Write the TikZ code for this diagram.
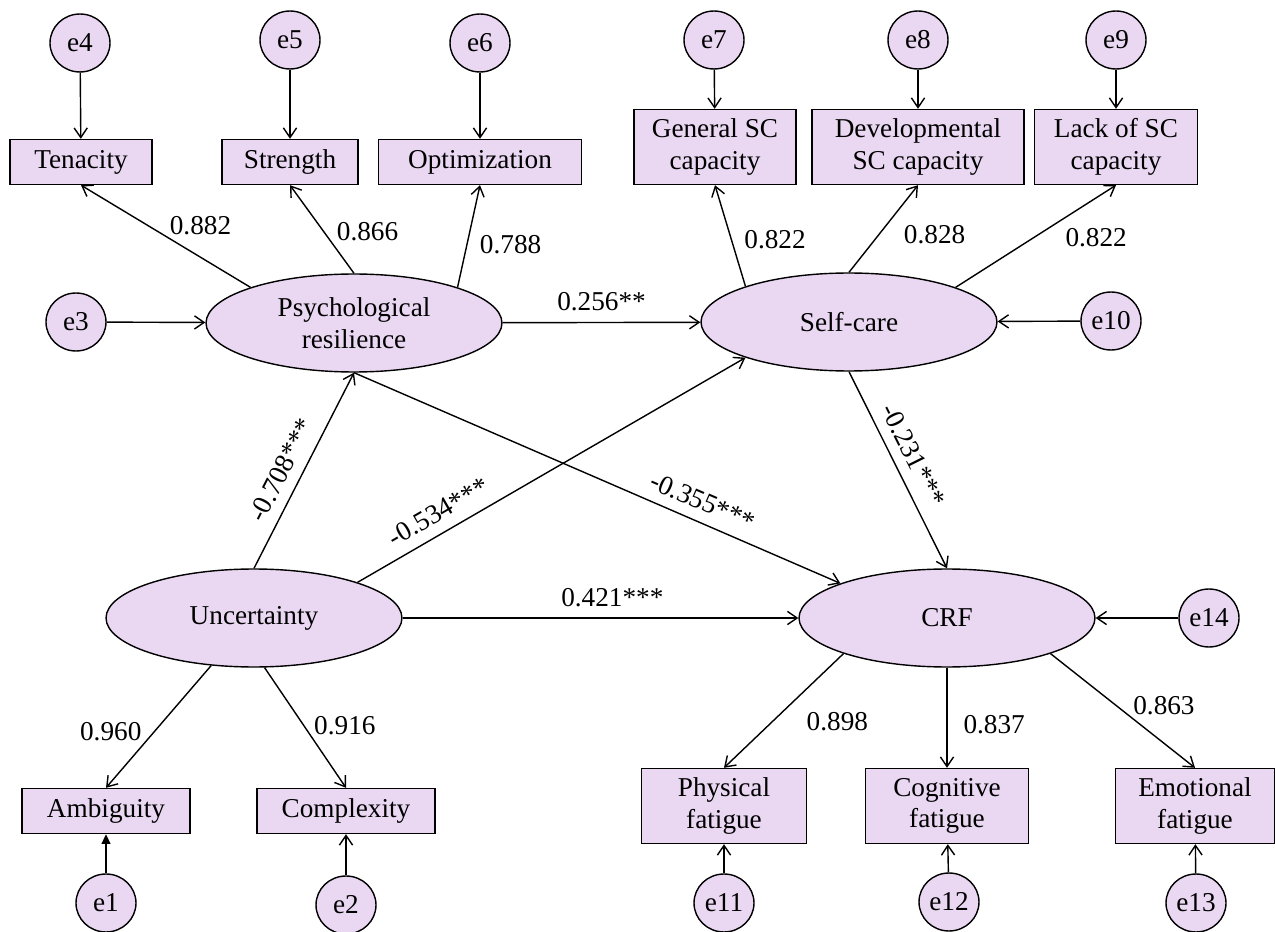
\documentclass[tikz,border=0pt]{standalone}
\usepackage{fontspec}
\setmainfont{Liberation Serif}
\usepackage{xcolor}
\usepackage{tikz}
\usetikzlibrary{arrows.meta, positioning, shapes.geometric}
\definecolor{semfill}{RGB}{234,216,243}

\begin{document}
\begin{tikzpicture}[x=0.02cm, y=-0.02cm,
          every node/.style={font=\fontsize{15.5}{18}\selectfont},
          latent/.style={ellipse, draw, fill=semfill, line width=0.8pt, minimum width=5.92cm, minimum height=1.96cm, inner sep=0pt, align=center},
          err/.style={ellipse, draw, fill=semfill, line width=0.8pt, minimum width=1.2cm, minimum height=1.16cm, inner sep=0pt},
          obs/.style={rectangle, draw, fill=semfill, line width=0.8pt, minimum height=0.9cm, inner sep=0pt, align=center},
          obstwo/.style={obs, minimum height=1.5cm},
          link/.style={line width=0.8pt, -{Straight Barb[length=5.5pt,width=7.5pt]}},
          coef/.style={inner sep=1pt}]
          \useasboundingbox (0,0) rectangle (1275,932);

          % latent variables
          \node[latent] (psy) at (354,323) {Psychological\\resilience};
          \node[latent] (self) at (849,322) {Self-care};
          \node[latent] (unc) at (254,618) {Uncertainty};
          \node[latent] (crf) at (947,618) {CRF};

          % indicators
          \node[obs, minimum width=2.84cm] (ten) at (81,162) {Tenacity};
          \node[obs, minimum width=2.72cm] (str) at (290,162) {Strength};
          \node[obs, minimum width=4.06cm] (opt) at (480,162) {Optimization};
          \node[obstwo, minimum width=3.24cm] (gsc) at (715,147) {General SC\\capacity};
          \node[obstwo, minimum width=4.24cm] (dev) at (918,147) {Developmental\\SC capacity};
          \node[obstwo, minimum width=3.26cm] (lack) at (1116,147) {Lack of SC\\capacity};
          \node[obs, minimum width=3.36cm] (amb) at (106,811) {Ambiguity};
          \node[obs, minimum width=3.56cm] (cpx) at (346,811) {Complexity};
          \node[obstwo, minimum width=3.30cm] (phy) at (724,806) {Physical\\fatigue};
          \node[obstwo, minimum width=3.26cm] (cog) at (947,806) {Cognitive\\fatigue};
          \node[obstwo, minimum width=3.18cm] (emo) at (1195,806) {Emotional\\fatigue};

          % error terms
          \node[err] (e1) at (106,903) {e1};
          \node[err] (e2) at (346,905) {e2};
          \node[err] (e3) at (76,322) {e3};
          \node[err] (e4) at (80,43) {e4};
          \node[err] (e5) at (290,40) {e5};
          \node[err] (e6) at (480,43) {e6};
          \node[err] (e7) at (714,40) {e7};
          \node[err] (e8) at (918,40) {e8};
          \node[err] (e9) at (1116,40) {e9};
          \node[err] (e10) at (1111,321) {e10};
          \node[err] (e11) at (724,903) {e11};
          \node[err] (e12) at (949,902) {e12};
          \node[err] (e13) at (1196,903) {e13};
          \node[err] (e14) at (1209,618) {e14};

          \draw[line width=0.8pt, -{Triangle[length=5.5pt,width=5pt]}] (e1) -- (amb);
          \draw[link] (e2) -- (cpx);
          \draw[link] (e3) -- (psy);
          \draw[link] (e4) -- (ten);
          \draw[link] (e5) -- (str);
          \draw[link] (e6) -- (opt);
          \draw[link] (e7) -- (gsc);
          \draw[link] (e8) -- (dev);
          \draw[link] (e9) -- (lack);
          \draw[link] (e10) -- (self);
          \draw[link] (e11) -- (phy);
          \draw[link] (e12) -- (cog);
          \draw[link] (e13) -- (emo);
          \draw[link] (e14) -- (crf);

          % loadings
          \draw[link] (psy.161) -- node[coef, pos=0.49, anchor=south west] {0.882} (ten.south);
          \draw[link] (psy.north) -- node[coef, pos=0.47, right=6pt] {0.866} (str.south);
          \draw[link] (psy.19) -- node[coef, pos=0.42, right=6pt] {0.788} (opt.south);
          \draw[link] (self.161) -- node[coef, pos=0.46, right=6pt] {0.822} (gsc.south);
          \draw[link] (self.north) -- node[coef, pos=0.43, right=13pt] {0.828} (dev.south);
          \draw[link] (self.18) -- node[coef, pos=0.67, below right=4pt and 0pt] {0.822} (lack.south);
          \draw[link] (unc.228) -- node[coef, pos=0.54, left=6pt] {0.960} (amb.north);
          \draw[link] (unc.-78) -- node[coef, pos=0.58, anchor=south west] {0.916} (cpx.north);
          \draw[link] (crf.199) -- node[coef, pos=0.49, below right=0pt and 11pt] {0.898} (phy.north);
          \draw[link] (crf.south) -- node[coef, pos=0.57, right=8pt] {0.837} (cog.north);
          \draw[link] (crf.-19) -- node[coef, pos=0.556, anchor=south west] {0.863} (emo.north);

          % structural paths
          \draw[link] (psy) -- node[coef, above=5pt] {0.256**} (self);
          \draw[link] (unc) -- node[coef, pos=0.53, above=5pt] {0.421***} (crf);
          \draw[link] (unc.north) -- node[coef, pos=0.455, sloped, above=5pt] {-0.708***} (psy.south);
          \draw[link] (unc.19) -- node[coef, pos=0.235, sloped, above=5pt] {-0.534***} (self.199);
          \draw[link] (psy.south) -- node[coef, pos=0.7, sloped, above=5pt] {-0.355***} (crf.162);
          \draw[link] (self.south) -- node[coef, pos=0.47, sloped, above=5pt] {-0.231***} (crf.north);
        \end{tikzpicture}
\end{document}
